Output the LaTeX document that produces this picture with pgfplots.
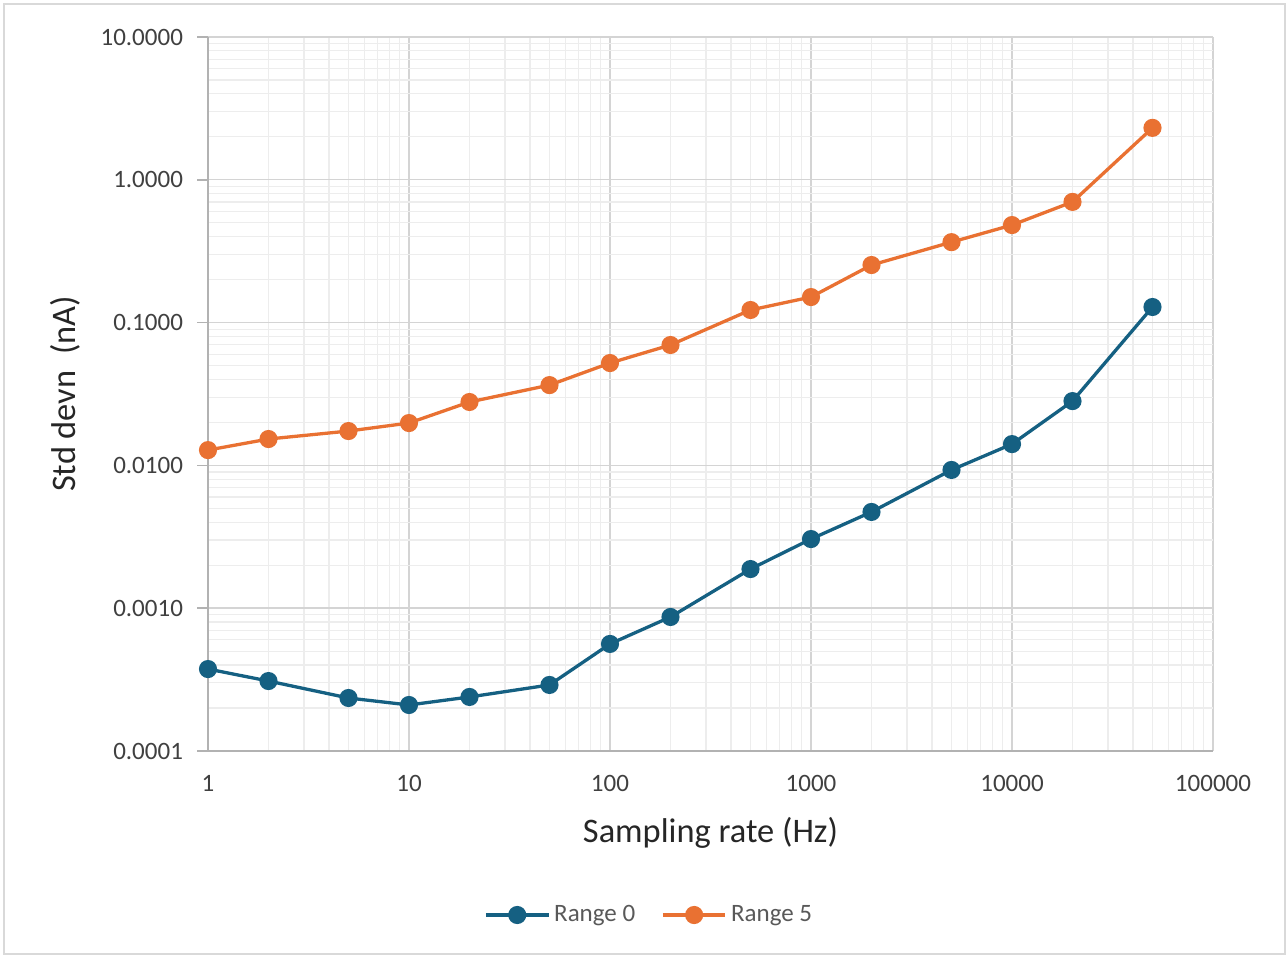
\documentclass[border=0pt]{standalone}
\usepackage{fontspec}
\setmainfont{Carlito}
\usepackage{pgfplots}
\pgfplotsset{compat=1.18}
\definecolor{c0}{HTML}{156082}
\definecolor{c5}{HTML}{E97132}
\definecolor{tl}{HTML}{404040}
\begin{document}
\begin{tikzpicture}
\useasboundingbox (-104pt,-102.5pt) rectangle (539.5pt,375.5pt);
\draw[black!15, line width=0.8pt] (-102pt,-101.5pt) rectangle (538.5pt,373.5pt);
\begin{axis}[
 at={(0,0)}, anchor=south west,
 scale only axis, width=502.5pt, height=357pt,
 xmode=log, ymode=log,
 xmin=1, xmax=100000, ymin=1e-4, ymax=10,
 xtick={1,10,100,1000,10000,100000},
 xticklabels={1,10,100,1000,10000,100000},
 ytick={1e-4,1e-3,1e-2,1e-1,1,10},
 yticklabels={0.0001,0.0010,0.0100,0.1000,1.0000,10.0000},
 grid=both,
 major grid style={draw=black!17, line width=0.7pt},
 minor grid style={draw=black!7, line width=0.6pt},
 axis x line*=bottom, axis y line*=left,
 axis line style={-, draw=black!30, line width=0.8pt},
 tick align=outside, major tick length=5.5pt, minor tick length=0pt,
 ytick style={draw=black!30, line width=0.8pt},
 xtick style={draw=none},
 ticklabel style={font=\fontsize{12.5}{14}\selectfont, text=tl},
 xticklabel style={yshift=-3pt},
 yticklabel style={xshift=-3.5pt},
 xlabel={Sampling rate (Hz)},
 ylabel={Std devn\ \ (nA)},
 label style={font=\fontsize{17.2}{20}\selectfont, text=black!85},
 xlabel style={at={(axis description cs:0.5,-0.115)}, anchor=center},
 ylabel style={at={(axis description cs:-0.142,0.5)}, anchor=center},
 legend style={at={(axis description cs:0.44,-0.2297)}, anchor=center, draw=none,
   font=\fontsize{12.5}{15}\selectfont, text=black!65, legend columns=2,
   /tikz/every even column/.append style={column sep=11pt}},
 legend image code/.code={\draw[mark repeat=2,mark phase=2] plot coordinates {(0cm,0cm)(0.55cm,0cm)(1.1cm,0cm)};},
]
\addplot[c0, line width=1.65pt, mark=*, mark size=3.7pt, mark options={fill=c0, draw=c0}] coordinates {
(1,0.000375) (2,0.000309) (5,0.000235) (10,0.000210) (20,0.000239) (50,0.000290)
(100,0.000562) (200,0.000868) (500,0.00188) (1000,0.00305) (2000,0.00472)
(5000,0.00929) (10000,0.0141) (20000,0.0282) (50000,0.1286)};
\addlegendentry{Range 0}
\addplot[c5, line width=1.65pt, mark=*, mark size=3.7pt, mark options={fill=c5, draw=c5}] coordinates {
(1,0.0128) (2,0.0153) (5,0.0174) (10,0.0198) (20,0.0278) (50,0.0365)
(100,0.0521) (200,0.0697) (500,0.1225) (1000,0.151) (2000,0.253)
(5000,0.366) (10000,0.482) (20000,0.700) (50000,2.31)};
\addlegendentry{Range 5}
\end{axis}
\end{tikzpicture}
\end{document}
